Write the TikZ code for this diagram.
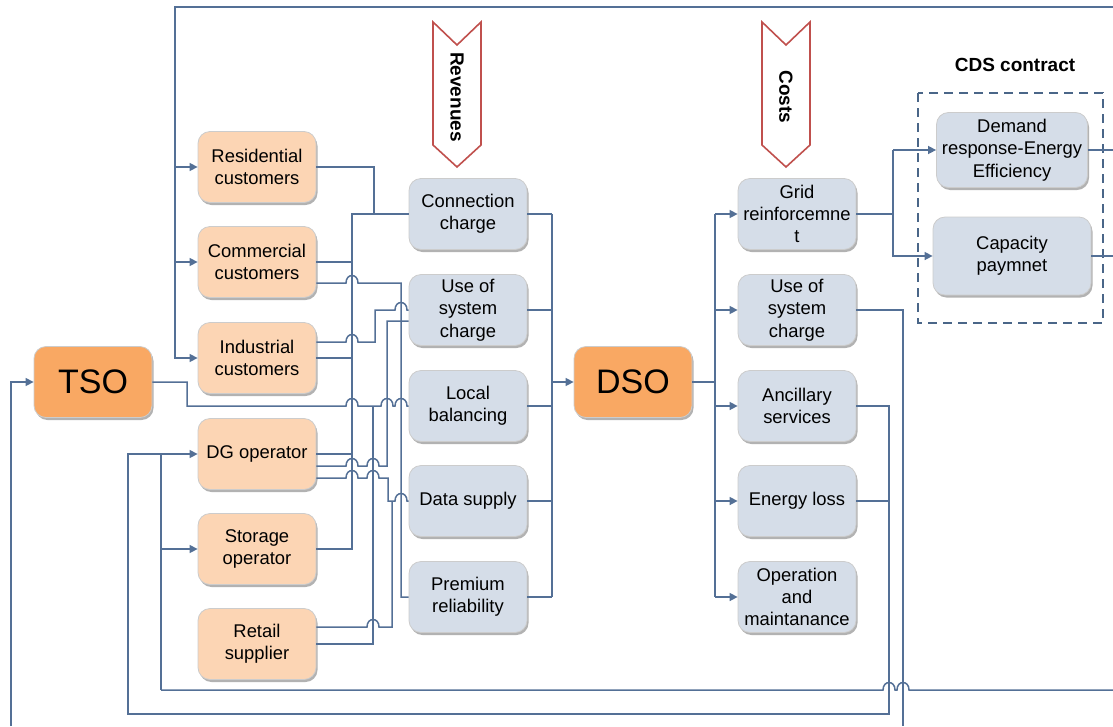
\documentclass[tikz,border=0pt]{standalone}
\usepackage{fontspec}
\setmainfont{Liberation Sans}
\usetikzlibrary{arrows.meta}
\usetikzlibrary{shadows}
\usetikzlibrary{calc}

\definecolor{wireblue}{RGB}{84,112,150}
\definecolor{peach}{RGB}{252,213,180}
\definecolor{mainorange}{RGB}{249,168,99}
\definecolor{greyblue}{RGB}{213,221,232}
\definecolor{chevred}{RGB}{192,80,77}
\definecolor{dashblue}{RGB}{74,102,136}

% a small bridge where a wire passes over another one
\newcommand{\hop}[2]{-- (#1-6,#2) .. controls (#1-6,#2-10) and (#1+6,#2-10) .. (#1+6,#2)}

\begin{document}
\begin{tikzpicture}[x=1pt, y=-1pt, >={Triangle[length=8pt,width=8pt]},
  box/.style={draw=gray!40, line width=0.8pt, rounded corners=12pt,
    minimum width=118pt, minimum height=71pt, inner sep=1pt, align=center,
    font=\fontsize{18.4}{22.3}\selectfont,
    drop shadow={shadow xshift=1.5pt, shadow yshift=-2.5pt, opacity=0.3, fill=black}},
  party/.style={box, fill=peach},
  charge/.style={box, fill=greyblue},
  operator/.style={box, fill=mainorange, font=\fontsize{34}{40}\selectfont},
  wire/.style={draw=wireblue, line width=1.5pt},
  feed/.style={wire, ->},
  chev/.style={draw=chevred, line width=1.6pt, fill=white}]
  \useasboundingbox (0,0) rectangle (1113,726);

  % chevrons
  \foreach \cx/\lab/\nm in {457/Revenues/rev, 786/Costs/cst} {
    \draw[chev] (\cx-24,22) -- (\cx,45) -- (\cx+24,22) -- (\cx+24,145) -- (\cx,167) -- (\cx-24,145) -- cycle;
    \node[rotate=-90, font=\bfseries\fontsize{19}{22}\selectfont] (\nm) at (\cx,97) {\lab};
  }

  % market parties
  \foreach \nm/\yy/\txt in {res/167/{Residential\\customers}, com/262/{Commercial\\customers},
      ind/358/{Industrial\\customers}, dg/454/{DG operator}, sto/549/{Storage\\operator},
      ret/644/{Retail\\supplier}}
    \node[party] (\nm) at (257,\yy) {\txt};

  % revenues and costs
  \foreach \nm/\yy/\txt in {con/214/{Connection\\charge}, use/310/{Use of\\system\\charge},
      loc/406/{Local\\balancing}, dat/501/{Data supply}, pre/597/{Premium\\reliability}}
    \node[charge] (\nm) at (468,\yy) {\txt};
  \foreach \nm/\yy/\txt in {gri/214/{Grid\\reinforcemne\\t}, usc/310/{Use of\\system\\charge},
      anc/406/{Ancillary\\services}, elo/501/{Energy loss}, opm/597/{Operation\\and\\maintanance}}
    \node[charge] (\nm) at (797,\yy) {\txt};

  \node[operator] (tso) at (93,382) {TSO};
  \node[operator] (dso) at (633,382) {DSO};

  % CDS contract
  \node[charge, minimum width=151pt, minimum height=75pt] (dem) at (1012,150) {Demand\\response-Energy\\Efficiency};
  \node[charge, minimum width=158pt, minimum height=78pt] (cap) at (1012,256) {Capacity\\paymnet};
  \draw[dashblue, line width=1.5pt, dash pattern=on 9pt off 6pt] (918,93) rectangle (1103,323);
  \node[font=\bfseries\fontsize{19}{22}\selectfont] (cds) at (1015,65) {CDS contract};

  \coordinate (tbus) at (175,7);
  \coordinate (eTop) at (1113,7);
  \coordinate (eLeft) at (11,726);
  \coordinate (rbus) at (552,214);
  \coordinate (cbus) at (715,214);
  \coordinate (gbus) at (893,150);
  \coordinate (eDem) at (1113,150);
  \coordinate (eCap) at (1113,256);
  \coordinate (lbus) at (161,690);
  \coordinate (mbus) at (128,714);
  \coordinate (abus) at (889,714);
  \coordinate (eBot) at (1113,690);
  \coordinate (eBot2) at (903,726);

  % feeds to customers and TSO
  \draw[feed] (eTop) -- (tbus) |- (ind.west);
  \foreach \n in {res,com}
    \draw[feed] (\n.west -| tbus) -- (\n.west);
  \draw[feed] (eLeft) |- (tso.west);

  % parties to revenues
  \draw[wire] (res.east) -| (374,214);
  \draw[wire] (con.west) -| (352,549) -- (sto.east);
  \draw[wire] (com.east) -- (352,262);
  \draw[wire] (ind.east) -- (352,358);
  \draw[wire] (dg.east) -- (352,454);
  \draw[wire] ($(com.east)+(0,21)$) \hop{352}{283} -| (401,597) -- (pre.west);
  \draw[wire] ($(ind.east)+(0,-16)$) \hop{352}{342} -| (375,310) \hop{401}{310} -- (use.west);
  \draw[wire] ($(dg.east)+(0,12)$) \hop{352}{466} \hop{373}{466} -- (387,466) |- ($(use.west)+(0,11)$);
  \draw[wire] (tso.east) -| (187,406) \hop{352}{406} \hop{387}{406} \hop{401}{406} -- (loc.west);
  \draw[wire] (ret.east) -| (373,406);
  \draw[wire] ($(dg.east)+(0,24)$) \hop{352}{478} \hop{373}{478} -| (388,501) \hop{401}{501} -- (dat.west);
  \draw[wire] ($(ret.east)+(0,-17)$) \hop{373}{627} -| (392,501);

  % revenues to DSO
  \foreach \n in {con,use,loc,dat,pre}
    \draw[wire] (\n.east) -- (\n.east -| rbus);
  \draw[wire] (rbus) -- (pre.east -| rbus);
  \draw[feed] (dso.west -| rbus) -- (dso.west);

  % DSO to costs
  \draw[wire] (dso.east) -- (dso.east -| cbus);
  \draw[wire] (cbus) -- (opm.west -| cbus);
  \foreach \n in {gri,usc,anc,elo,opm}
    \draw[feed] (\n.west -| cbus) -- (\n.west);

  % grid reinforcement to CDS contract
  \draw[wire] (gri.east) -- (gri.east -| gbus);
  \draw[feed] (gbus) -- (dem.west);
  \draw[feed] (gbus) |- (cap.west);
  \draw[wire] (dem.east) -- (eDem);
  \draw[wire] (cap.east) -- (eCap);

  % bottom returns
  \draw[wire] (lbus) -- (dg.west -| lbus);
  \draw[wire] (lbus) \hop{889}{690} \hop{903}{690} -- (eBot);
  \draw[feed] (sto.west -| lbus) -- (sto.west);
  \draw[feed] (anc.east) -| (abus) -| (dg.west -| mbus) -- (dg.west);
  \draw[wire] (elo.east) -- (elo.east -| abus);
  \draw[wire] (usc.east) -| (eBot2);
\end{tikzpicture}
\end{document}
